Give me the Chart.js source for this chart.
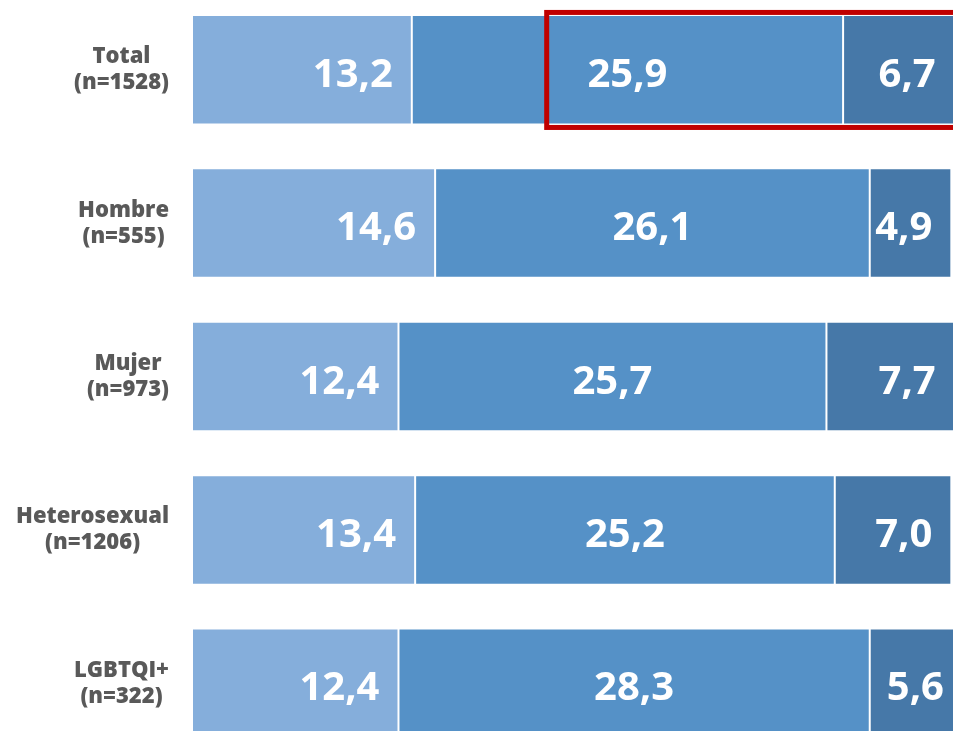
<!DOCTYPE html>
<html>
<head>
<meta charset="utf-8">
<script src="https://cdn.jsdelivr.net/npm/chart.js@4.4.1/dist/chart.umd.min.js"></script>
<style>
    html, body { margin: 0; padding: 0; background: #fff; overflow: hidden; }
    #wrap { position: absolute; left: 0; top: -7px; width: 953px; height: 767px; }
</style>
</head>
<body>
<div id="wrap"><canvas id="grupoChart"></canvas></div>
<script>
const categorias = [
    ['Total', '(n=1528)'],
    ['Hombre', '(n=555)'],
    ['Mujer', '(n=973)'],
    ['Heterosexual', '(n=1206)'],
    ['LGBTQI+', '(n=322)']
];
const serie1 = [13.2, 14.6, 12.4, 13.4, 12.4];
const serie2 = [25.9, 26.1, 25.7, 25.2, 28.3];
const serie3 = [6.7, 4.9, 7.7, 7.0, 5.6];
const colores = ['#85aedb', '#5591c7', '#4678a8'];

// recuadro rojo sobre la fila "Total", desde este valor hasta el borde
const resaltadoFila = 0;
const resaltadoDesde = 21.3;

const fmt = v => v.toFixed(1).replace('.', ',');

const etiquetasY = {
    id: 'etiquetasY',
    afterDraw(chart) {
        const ctx = chart.ctx;
        const y = chart.scales.y;
        ctx.save();
        ctx.font = '800 22px "Open Sans"';
        ctx.fillStyle = '#595959';
        ctx.textAlign = 'center';
        ctx.textBaseline = 'alphabetic';
        categorias.forEach((lineas, i) => {
            const cy = y.getPixelForValue(i);
            const ancho = Math.max(...lineas.map(l => ctx.measureText(l).width));
            const cx = 169 - ancho / 2;
            ctx.fillText(lineas[0], cx, cy - 6.5);
            ctx.fillText(lineas[1], cx, cy + 19.5);
        });
        ctx.restore();
    }
};

const etiquetasValor = {
    id: 'etiquetasValor',
    afterDatasetsDraw(chart) {
        const ctx = chart.ctx;
        ctx.save();
        ctx.font = 'bold 40px "Open Sans"';
        ctx.fillStyle = '#ffffff';
        ctx.textBaseline = 'alphabetic';
        chart.data.datasets.forEach((ds, i) => {
            chart.getDatasetMeta(i).data.forEach((bar, j) => {
                const txt = fmt(ds.data[j]);
                if (i === 1) {
                    ctx.textAlign = 'center';
                    ctx.fillText(txt, (bar.base + bar.x) / 2, bar.y + 17);
                } else {
                    ctx.textAlign = 'right';
                    ctx.fillText(txt, bar.x - 19, bar.y + 17);
                }
            });
        });
        ctx.restore();
    }
};

const recuadro = {
    id: 'recuadro',
    afterDraw(chart) {
        const ctx = chart.ctx;
        const bar = chart.getDatasetMeta(0).data[resaltadoFila];
        const x0 = chart.scales.x.getPixelForValue(resaltadoDesde);
        const top = bar.y - bar.height / 2 - 2.5;
        const bottom = bar.y + bar.height / 2 + 3;
        ctx.save();
        ctx.strokeStyle = '#c00000';
        ctx.lineWidth = 5;
        ctx.strokeRect(x0, top, chart.chartArea.right + 20 - x0, bottom - top);
        ctx.restore();
    }
};

new Chart(document.getElementById('grupoChart'), {
    type: 'bar',
    data: {
        labels: categorias,
        datasets: [serie1, serie2, serie3].map((d, i) => ({
            data: d,
            backgroundColor: colores[i],
            borderColor: 'rgba(255, 255, 255, 0.14)',
            borderWidth: 1,
            borderSkipped: false,
            categoryPercentage: 1,
            barPercentage: 0.714
        }))
    },
    options: {
        indexAxis: 'y',
        responsive: true,
        maintainAspectRatio: false,
        animation: false,
        layout: { padding: 0 },
        plugins: {
            legend: { display: false },
            tooltip: { enabled: false }
        },
        scales: {
            x: {
                stacked: true,
                display: false,
                min: 0,
                max: 45.7
            },
            y: {
                stacked: true,
                grid: { display: false },
                border: { display: false },
                ticks: { display: false },
                afterFit: function (scale) {
                    scale.width = 192;
                }
            }
        }
    },
    plugins: [etiquetasValor, recuadro, etiquetasY]
});
</script>
</body>
</html>
